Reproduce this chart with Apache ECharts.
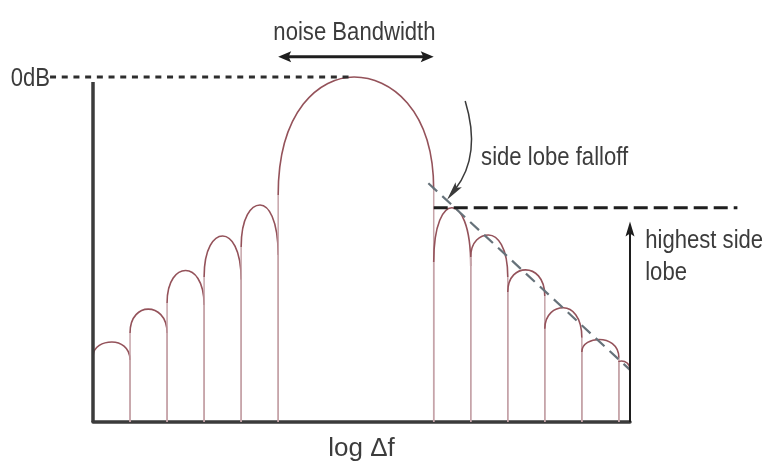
<!DOCTYPE html>
<html>
<head>
<meta charset="utf-8">
<script src="https://cdn.jsdelivr.net/npm/echarts@6/dist/echarts.min.js"></script>
<style>
  html, body { margin: 0; padding: 0; background: #ffffff; }
  #chart { width: 767px; height: 469px; }
</style>
</head>
<body>
<div id="chart"></div>
<script>
// Window spectrum: main lobe plus side lobes, one entry per lobe (x in bin units, levels in dB)
const lobeStart = [0, 1, 2, 3, 4, 5, 9.2, 10.2, 11.2, 12.2, 13.2, 14.2];
const lobeEnd   = [1, 2, 3, 4, 5, 9.2, 10.2, 11.2, 12.2, 13.2, 14.2, 14.5];
const crestPos  = [0.51, 1.49, 2.5, 3.5, 4.51, 7.05, 9.69, 10.68, 11.68, 12.7, 13.67, 14.27];
const crestDb   = [-76.8, -67.3, -56.1, -46.1, -37.1, 0, -37.9, -45.8, -55.9, -66.9, -76.1, -82.3];
const startDb   = [-81.1, -74.2, -65.5, -58.0, -49.3, -34.2, -53.6, -52.2, -62.3, -73.0, -79.7, -82.6];
const endDb     = [-82.0, -74.2, -66.1, -58.8, -51.6, -32.7, -54.8, -58.0, -63.5, -75.6, -81.4, -84.9];

// Reference levels and guides (x in bin units, y in dB)
const zeroDbLine     = [[-1.16, 0], [7.05, 0]];
const sideLobeLevel  = crestDb[6];
const sideLobeLine   = [[9.2, sideLobeLevel], [17.4, sideLobeLevel]];
const falloffLine    = [[9.055, -30.8], [14.5, -84.9]];
const noiseBandwidth = [lobeStart[5], lobeEnd[5]];

const FLOOR = -100;
const TOP = 22.3;
const FONT = "'Liberation Sans', Arial, sans-serif";
const INK = '#3c3c3c';
const AXIS = '#3b3b3b';

const lobeData = lobeStart.map((x0, i) => [x0, lobeEnd[i], crestPos[i], startDb[i], crestDb[i], endDb[i]]);

// Straight and dashed guide lines
const guides = [
  { pts: [[0, FLOOR], [0, -1.45]], color: AXIS, width: 3.5, dash: null },
  { pts: zeroDbLine, color: '#2e2e2e', width: 3, dash: [6, 5.7] },
  { pts: falloffLine, color: '#66727a', width: 2.2, dash: [12, 7] },
  { pts: sideLobeLine, color: '#1e1e1e', width: 3, dash: [14, 6] }
];

// Arrows: tips sit exactly on the given points; bend is a sideways bow in pixels
const arrows = [
  { from: [noiseBandwidth[0], 5.88], to: [noiseBandwidth[1], 5.88], both: true, bend: 0,
    color: '#1e1e1e', width: 3, headLen: 13, headW: 11 },
  { from: [14.5, FLOOR], to: [14.5, -41.9], both: false, bend: 0,
    color: '#1e1e1e', width: 2, headLen: 15, headW: 9 },
  { from: [10.05, -6.96], to: [9.56, -35.6], both: false, bend: 26,
    color: '#3a3a3a', width: 1.5, headLen: 19, headW: 8 }
];

// Text notes placed in data units
const notes = [
  { text: '0dB',               at: [-1.16, -0.55], align: 'right',  size: 26 },
  { text: 'noise Bandwidth',   at: [7.06, 12.87],  align: 'center', size: 26 },
  { text: 'side lobe falloff', at: [10.48, -23.4], align: 'left',   size: 26 },
  { text: 'highest side\nlobe', at: [14.91, -52.2], align: 'left',   size: 26 }
];

function renderLobe(params, api) {
  const s = api.coord([api.value(0), api.value(3)]);
  const c = api.coord([api.value(2), api.value(4)]);
  const e = api.coord([api.value(1), api.value(5)]);
  const b0 = api.coord([api.value(0), FLOOR]);
  const b1 = api.coord([api.value(1), FLOOR]);
  const kv = 0.72, kh = 0.45;
  const arch =
    'M' + s[0] + ' ' + s[1] +
    ' C' + s[0] + ' ' + (s[1] - kv * (s[1] - c[1])) + ' ' + (c[0] - kh * (c[0] - s[0])) + ' ' + c[1] + ' ' + c[0] + ' ' + c[1] +
    ' C' + (c[0] + kh * (e[0] - c[0])) + ' ' + c[1] + ' ' + e[0] + ' ' + (e[1] - kv * (e[1] - c[1])) + ' ' + e[0] + ' ' + e[1];
  const stems = 'M' + b0[0] + ' ' + b0[1] + ' L' + s[0] + ' ' + s[1] + ' M' + e[0] + ' ' + e[1] + ' L' + b1[0] + ' ' + b1[1];
  return {
    type: 'group',
    children: [
      { type: 'path', shape: { pathData: stems }, style: { fill: 'none', stroke: '#c6a4a9', lineWidth: 1.5 } },
      { type: 'path', shape: { pathData: arch }, style: { fill: 'none', stroke: '#94525a', lineWidth: 1.6 } }
    ]
  };
}

function renderGuide(params, api) {
  const g = guides[params.dataIndex];
  return {
    type: 'polyline',
    shape: { points: g.pts.map(p => api.coord(p)) },
    style: { fill: 'none', stroke: g.color, lineWidth: g.width, lineDash: g.dash }
  };
}

function head(tip, dir, len, w, color) {
  const nx = -dir[1], ny = dir[0];
  return {
    type: 'polygon',
    shape: { points: [
      tip,
      [tip[0] - dir[0] * len + nx * w / 2, tip[1] - dir[1] * len + ny * w / 2],
      [tip[0] - dir[0] * len * 0.8, tip[1] - dir[1] * len * 0.8],
      [tip[0] - dir[0] * len - nx * w / 2, tip[1] - dir[1] * len - ny * w / 2]
    ] },
    style: { fill: color }
  };
}

function unit(a, b) {
  const dx = b[0] - a[0], dy = b[1] - a[1];
  const l = Math.hypot(dx, dy) || 1;
  return [dx / l, dy / l];
}

function renderArrow(params, api) {
  const a = arrows[params.dataIndex];
  const p0 = api.coord(a.from), p1 = api.coord(a.to);
  const d = unit(p0, p1);
  const ctrl = [(p0[0] + p1[0]) / 2 + d[1] * a.bend, (p0[1] + p1[1]) / 2 - d[0] * a.bend];
  const dEnd = unit(ctrl, p1);
  const dStart = unit(ctrl, p0);
  const e = [p1[0] - dEnd[0] * a.headLen * 0.7, p1[1] - dEnd[1] * a.headLen * 0.7];
  const s = a.both ? [p0[0] - dStart[0] * a.headLen * 0.7, p0[1] - dStart[1] * a.headLen * 0.7] : p0;
  const children = [{
    type: 'path',
    shape: { pathData: 'M' + s[0] + ' ' + s[1] + ' Q' + ctrl[0] + ' ' + ctrl[1] + ' ' + e[0] + ' ' + e[1] },
    style: { fill: 'none', stroke: a.color, lineWidth: a.width }
  }, head(p1, dEnd, a.headLen, a.headW, a.color)];
  if (a.both) children.push(head(p0, dStart, a.headLen, a.headW, a.color));
  return { type: 'group', children: children };
}

function renderNote(params, api) {
  const n = notes[params.dataIndex];
  const p = api.coord(n.at);
  return {
    type: 'text',
    x: p[0], y: p[1], scaleX: 0.85,
    style: {
      text: n.text, fill: INK, fontFamily: FONT, fontSize: n.size,
      align: n.align, verticalAlign: 'middle', lineHeight: 32
    }
  };
}

function layer(data, renderItem, z) {
  return { type: 'custom', data: data, renderItem: renderItem, clip: false, silent: true, animation: false, z: z };
}

const chart = echarts.init(document.getElementById('chart'));
chart.setOption({
  animation: false,
  backgroundColor: '#ffffff',
  grid: { left: 93, right: 137, top: 0, bottom: 47 },
  xAxis: {
    type: 'value', min: 0, max: 14.5,
    name: 'log Δf', nameLocation: 'middle', nameGap: 14,
    nameTextStyle: { fontFamily: FONT, fontSize: 26, color: INK },
    axisLine: { show: true, onZero: false, lineStyle: { color: AXIS, width: 3.5 } },
    axisTick: { show: false }, axisLabel: { show: false }, splitLine: { show: false }
  },
  yAxis: {
    type: 'value', min: FLOOR, max: TOP,
    axisLine: { show: false }, axisTick: { show: false }, splitLine: { show: false },
    axisLabel: { show: false }
  },
  series: [
    layer(guides.map((g, i) => [i]), renderGuide, 3),
    layer(lobeData, renderLobe, 2),
    layer(arrows.map((a, i) => [i]), renderArrow, 4),
    layer(notes.map((n, i) => [i]), renderNote, 5)
  ]
});
</script>
</body>
</html>
